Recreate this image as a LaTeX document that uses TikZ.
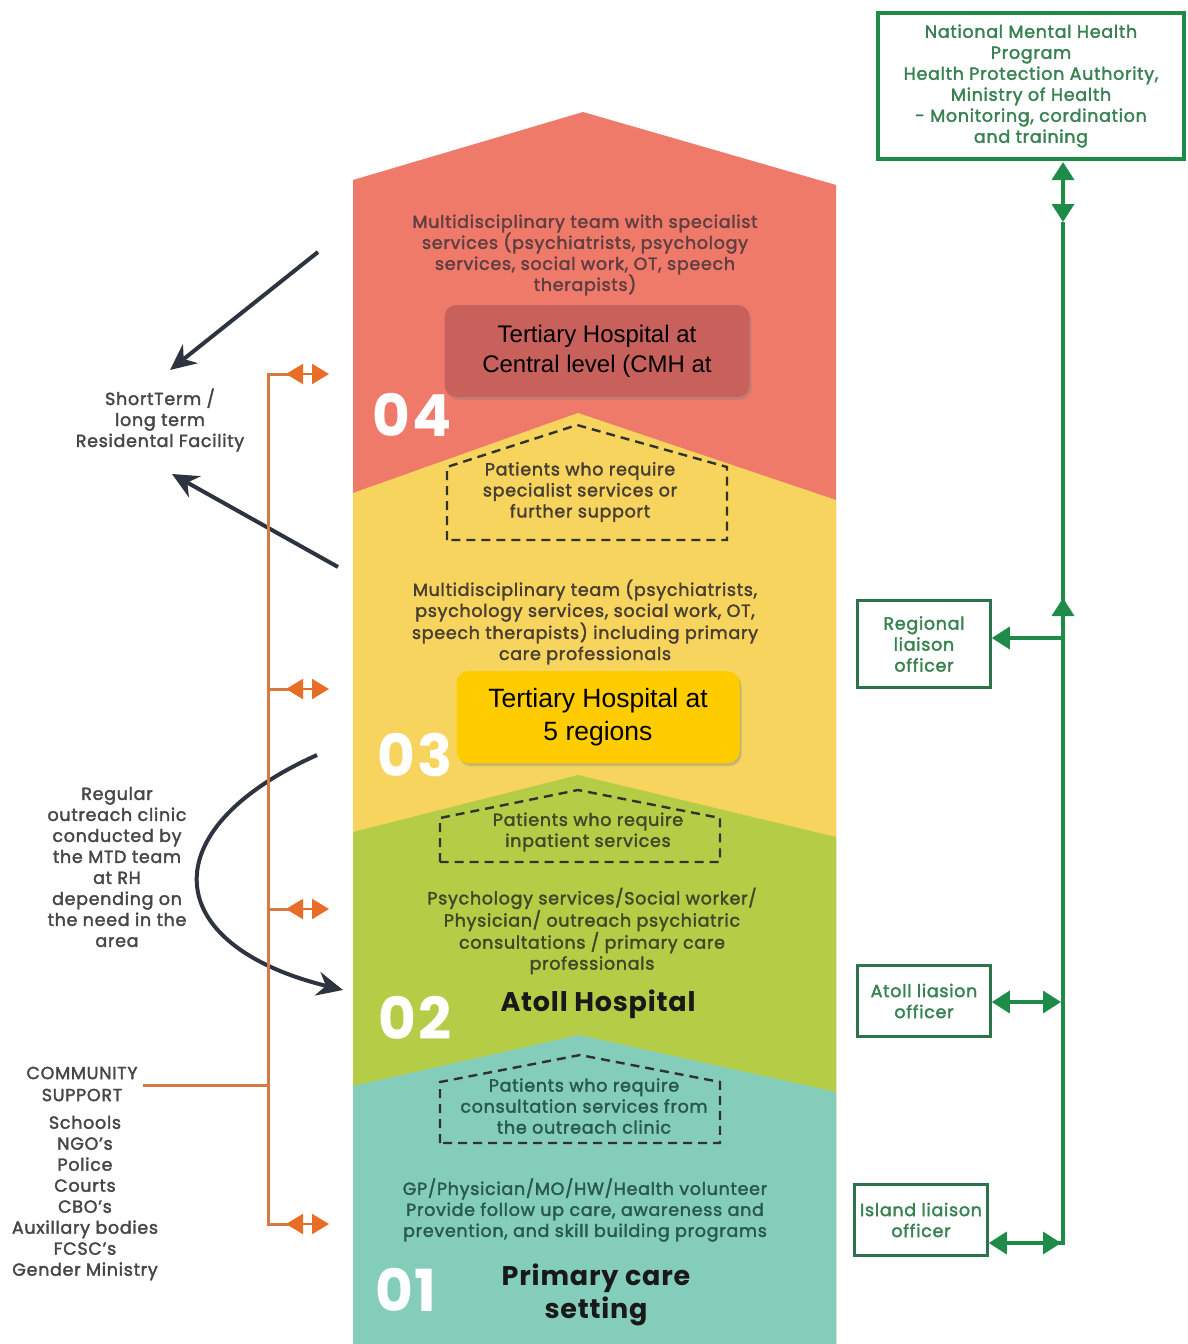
\documentclass[tikz,border=0pt]{standalone}
\usepackage{fontspec}
\setmainfont{Poppins}
\newfontfamily\semifont{Poppins}[FakeBold=2, LetterSpace=4]
\newfontfamily\headfont{Poppins}[LetterSpace=3]
\newfontfamily\arialfont{Liberation Sans}
\usetikzlibrary{arrows.meta,shadows}

\definecolor{tierred}{RGB}{240,122,106}
\definecolor{tieryellow}{RGB}{246,212,94}
\definecolor{tiergreen}{RGB}{181,204,70}
\definecolor{tierteal}{RGB}{133,205,187}
\definecolor{boxred}{RGB}{200,96,92}
\definecolor{boxyellow}{RGB}{255,204,0}
\definecolor{linkorange}{RGB}{212,122,66}
\definecolor{tiporange}{RGB}{232,110,40}
\definecolor{govgreen}{RGB}{30,140,72}
\definecolor{govframe}{RGB}{45,115,75}
\definecolor{govtext}{RGB}{55,130,80}
\definecolor{navy}{RGB}{45,52,64}
\definecolor{sidetext}{RGB}{70,70,70}
\definecolor{redtext}{RGB}{95,62,66}
\definecolor{yellowtext}{RGB}{72,62,50}
\definecolor{greentext}{RGB}{62,72,40}
\definecolor{tealtext}{RGB}{40,88,78}
\definecolor{dashink}{RGB}{50,50,45}

\tikzset{
  bodytext/.style={align=center, font=\semifont\fontsize{17.5}{21}\selectfont, inner sep=0pt},
  sidelabel/.style={align=center, text=sidetext, font=\semifont\fontsize{17.5}{21}\selectfont, inner sep=0pt},
  tiernum/.style={text=white, font=\headfont\bfseries\fontsize{58}{58}\selectfont, inner sep=0pt},
  tierhead/.style={align=center, text=black!90, font=\headfont\bfseries\fontsize{27}{33}\selectfont, inner sep=0pt},
  hospbox/.style={rounded corners=12pt, align=center, inner sep=0pt,
    drop shadow={opacity=0.35, shadow xshift=2pt, shadow yshift=-3pt}},
  dashbox/.style={draw=dashink, line width=2.4pt, dash pattern=on 9pt off 6pt},
  govbox/.style={draw=govframe, line width=2.5pt, align=center, text=govtext,
    font=\semifont\fontsize{17.5}{21}\selectfont, inner sep=0pt},
  govline/.style={draw=govgreen, line width=3.5pt},
  govtips/.style={govline, {Triangle[length=18pt,width=22pt]}-{Triangle[length=18pt,width=22pt]}},
  govtip/.style={govline, -{Triangle[length=18pt,width=22pt]}},
  linkline/.style={draw=linkorange, line width=3pt},
  linktips/.style={draw=tiporange, fill=tiporange, line width=2pt,
    {Triangle[length=17pt,width=20pt]}-{Triangle[length=17pt,width=20pt]}},
  referral/.style={draw=navy, line width=4pt, -{Stealth[length=26pt,width=24pt]}}
}

\begin{document}
\begin{tikzpicture}[x=1pt,y=-1pt]
\useasboundingbox (0,0) rectangle (1187,1344);
\fill[white] (0,0) rectangle (1187,1344);

% stacked care levels, each one a pentagon laid over the previous
\fill[tierred]    (353,180)  -- (583,112)  -- (836,185)  -- (836,1344) -- (353,1344) -- cycle;
\fill[tieryellow] (353,493)  -- (578,413)  -- (836,500)  -- (836,1344) -- (353,1344) -- cycle;
\fill[tiergreen]  (353,832)  -- (578,775)  -- (836,837)  -- (836,1344) -- (353,1344) -- cycle;
\fill[tierteal]   (353,1086) -- (579,1035) -- (836,1092) -- (836,1344) -- (353,1344) -- cycle;

% level 04
\node[bodytext, text=redtext] (t4) at (585,255)
  {Multidisciplinary team with specialist\\services (psychiatrists, psychology\\services, social work, OT, speech\\therapists)};
\node[hospbox, fill=boxred, minimum width=305pt, minimum height=92pt,
  font=\arialfont\fontsize{24}{30}\selectfont] (h4) at (597,351)
  {Tertiary Hospital at\\Central level (CMH at};
\node[tiernum] (n4) at (412,415) {04};

% referral to level 04
\draw[dashbox] (447,540) -- (447,467) -- (577,425) -- (727,467) -- (727,540) -- cycle;
\node[bodytext, text=yellowtext] (p4) at (580,492)
  {Patients who require\\specialist services or\\further support};

% level 03
\node[bodytext, text=yellowtext] (t3) at (585,622)
  {Multidisciplinary team (psychiatrists,\\psychology services, social work, OT,\\speech therapists) including primary\\care professionals};
\node[hospbox, fill=boxyellow, minimum width=283pt, minimum height=92pt,
  font=\arialfont\fontsize{26.5}{33}\selectfont] (h3) at (598,717)
  {Tertiary Hospital at\\5 regions};
\node[tiernum] (n3) at (415,755) {03};

% referral to level 03
\draw[dashbox] (440,862) -- (440,818) -- (578,790) -- (720,818) -- (720,862) -- cycle;
\node[bodytext, text=greentext] (p3) at (588,832)
  {Patients who require\\inpatient services};

% level 02
\node[bodytext, text=greentext] (t2) at (592,931)
  {Psychology services/Social worker/\\Physician/ outreach psychiatric\\consultations / primary care\\professionals};
\node[tierhead] (h2) at (598,1004) {Atoll Hospital};
\node[tiernum] (n2) at (415,1018) {02};

% referral to level 02
\draw[dashbox] (440,1143) -- (440,1082) -- (580,1055) -- (720,1082) -- (720,1143) -- cycle;
\node[bodytext, text=tealtext] (p2) at (584,1106)
  {Patients who require\\consultation services from\\the outreach clinic};

% level 01
\node[bodytext, text=tealtext] (t1) at (585,1210)
  {GP/Physician/MO/HW/Health volunteer\\Provide follow up care, awareness and\\prevention, and skill building programs};
\node[tierhead] (h1) at (596,1295) {Primary care\\setting};
\node[tiernum] (n1) at (406,1290) {01};

% residential facility and outreach
\node[sidelabel] (res) at (160,420) {ShortTerm /\\long term\\Residental Facility};
\coordinate (resin) at (170,370);
\coordinate (resout) at (172,474);
\coordinate (fromfour) at (318,252);
\coordinate (fromthree) at (338,567);
\draw[referral] (fromfour) -- (resin);
\draw[referral] (fromthree) -- (resout);

\node[sidelabel] (outreach) at (117,867)
  {Regular\\outreach clinic\\conducted by\\the MTD team\\at RH\\depending on\\the need in the\\area};
\coordinate (outstart) at (317,755);
\coordinate (outend) at (343,990);
\draw[referral] (outstart) .. controls (150,830) and (160,945) .. (outend);

% community support links
\node[sidelabel, font=\semifont\fontsize{17.5}{22}\selectfont] (comm) at (82,1084) {COMMUNITY\\SUPPORT};
\node[sidelabel] (commlist) at (85,1198)
  {Schools\\NGO’s\\Police\\Courts\\CBO’s\\Auxillary bodies\\FCSC’s\\Gender Ministry};
\coordinate (otop) at (268,374);
\coordinate (obot) at (268,1224);
\coordinate (ocomm) at (268,1085);
\coordinate (o4) at (290,374);
\coordinate (o3) at (290,689);
\coordinate (o2) at (290,909);
\coordinate (o1) at (290,1224);
\draw[linkline] (o4) -- (otop) -- (obot) -- (o1);
\draw[linkline] (268,689) -- (o3);
\draw[linkline] (268,909) -- (o2);
\draw[linkline] (143,1085) -- (ocomm);
\foreach \y in {374,689,909,1224} {
  \draw[linktips] (286,\y) -- (329,\y);
}

% national programme and liaison officers
\node[govbox, draw=govgreen, line width=4pt, minimum width=306pt, minimum height=146pt] (nmhp) at (1031,86)
  {National Mental Health\\Program\\Health Protection Authority,\\Ministry of Health\\- Monitoring, cordination\\and training};
\node[govbox, minimum width=133pt, minimum height=87pt] (reg) at (924,644)
  {Regional\\liaison\\officer};
\node[govbox, minimum width=133pt, minimum height=71pt] (atoll) at (924,1001)
  {Atoll liasion\\officer};
\node[govbox, minimum width=133pt, minimum height=71pt] (island) at (921,1220)
  {Island liaison\\officer};

\coordinate (gtop) at (1063,162);
\coordinate (gsplit) at (1063,222);
\coordinate (gmid) at (1063,638);
\coordinate (gatoll) at (1063,1002);
\coordinate (gbot) at (1063,1243);
\draw[govtips] (gtop) -- (gsplit);
\draw[govline] (gsplit) -- (gbot) -- (1040,1243);
\draw[govtip] (gmid) -- (1063,598);
\draw[govtip] (gmid) -- (reg.east |- gmid);
\draw[govtips] (atoll.east |- gatoll) -- (1061,1002);
\draw[govtips] (island.east |- gbot) -- (1061,1243);
\end{tikzpicture}
\end{document}
